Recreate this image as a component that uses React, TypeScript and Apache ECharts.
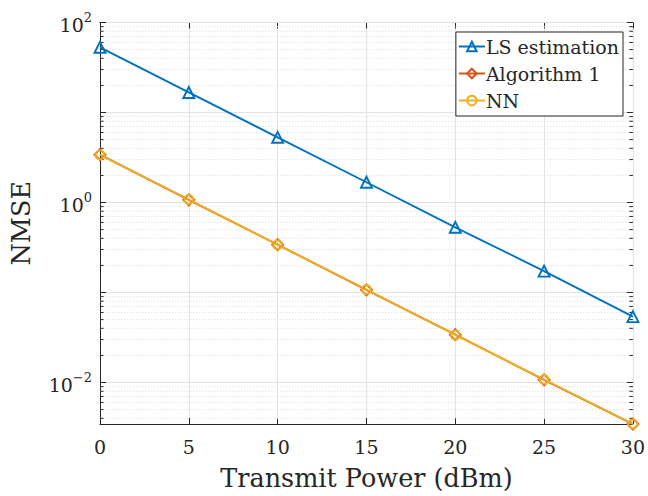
import React, { useEffect, useRef } from "react";
import * as echarts from "echarts";

const powers = [0, 5, 10, 15, 20, 25, 30];
const lsValues = [53, 16.7, 5.3, 1.68, 0.53, 0.173, 0.054];
const alg1Values = [3.4, 1.07, 0.34, 0.107, 0.034, 0.0107, 0.00345];
const nnValues = [3.38, 1.08, 0.34, 0.108, 0.0338, 0.0108, 0.00346];
const seriesNames = ["LS estimation", "Algorithm 1", "NN"];
const yMin = 0.00346;
const yMax = 100;
const minorGridValues = [
  0.004, 0.005, 0.006, 0.007, 0.008, 0.009,
  0.02, 0.03, 0.04, 0.05, 0.06, 0.07, 0.08, 0.09,
  0.2, 0.3, 0.4, 0.5, 0.6, 0.7, 0.8, 0.9,
  2, 3, 4, 5, 6, 7, 8, 9,
  20, 30, 40, 50, 60, 70, 80, 90,
];
const decadeValues = [0.01, 0.1, 1, 10, 100];

const FONT = "DejaVu Serif";
const TXT = "#262626";
const BLUE = "#0072BD";
const ORANGE = "#D95319";
const YELLOW = "#EDB120";

export default function App() {
  const ref = useRef<HTMLDivElement>(null);
  useEffect(() => {
    document.body.style.margin = "0";
    const chart = echarts.init(ref.current!, null, { renderer: "svg" });
    const supFmt = (v: number) => {
      const e = Math.log10(v);
      const r = Math.round(e);
      if (Math.abs(e - r) > 1e-6 || r % 2 !== 0) return "";
      const es = r < 0 ? "\u2212" + Math.abs(r) : String(r);
      return "{b|10}{s|" + es + "}";
    };
    const rich = {
      b: { fontSize: 19, fontFamily: FONT, color: TXT, verticalAlign: "bottom", lineHeight: 24 },
      s: { fontSize: 13, fontFamily: FONT, color: TXT, verticalAlign: "top", lineHeight: 24, padding: [0, 0, 10, 0] },
    };
    const lineSeries = (name: string, data: number[], color: string, symbol: string, size: number) => ({
      name,
      type: "line",
      data: powers.map((p, i) => [p, data[i]]),
      symbol,
      symbolSize: size,
      clip: false,
      lineStyle: { color, width: 1.9 },
      itemStyle: { color: "rgba(255,255,255,0)", borderColor: color, borderWidth: 1.9 },
      z: 5,
    });
    chart.setOption({
      animation: false,
      backgroundColor: "#fff",
      grid: { left: 99, right: 13, top: 22.5, bottom: 71.7, containLabel: false },
      legend: {
        data: seriesNames,
        orient: "vertical",
        right: 25,
        top: 32,
        itemWidth: 26,
        itemHeight: 12,
        itemGap: 8,
        padding: [5, 4, 6, 2],
        backgroundColor: "#fff",
        borderColor: TXT,
        borderWidth: 1,
        borderRadius: 0,
        textStyle: { fontFamily: FONT, fontSize: 19, color: TXT, padding: [0, 0, 0, -4] },
      },
      xAxis: [
        {
          type: "value",
          min: 0,
          max: 30,
          interval: 5,
          name: "Transmit Power (dBm)",
          nameLocation: "middle",
          nameGap: 41,
          nameTextStyle: { fontFamily: FONT, fontSize: 25.5, color: TXT },
          axisLine: { lineStyle: { color: TXT, width: 1 } },
          axisTick: { inside: true, length: 6, lineStyle: { color: TXT } },
          axisLabel: { fontFamily: FONT, fontSize: 19, color: TXT, margin: 13 },
          splitLine: { show: true, lineStyle: { color: "#e3e3e3", width: 1 } },
        },
        {
          type: "value",
          position: "top",
          min: 0,
          max: 30,
          interval: 5,
          axisLine: { show: true, lineStyle: { color: TXT, width: 1 } },
          axisTick: { show: true, inside: true, length: 6, lineStyle: { color: TXT } },
          axisLabel: { show: false },
          splitLine: { show: false },
        },
      ],
      yAxis: [
        {
          type: "log",
          logBase: 10,
          min: yMin,
          max: yMax,
          name: "NMSE",
          nameLocation: "middle",
          nameGap: 66,
          nameTextStyle: { fontFamily: FONT, fontSize: 25.5, color: TXT },
          axisLine: { show: true, lineStyle: { color: TXT, width: 1 } },
          axisTick: { show: false },
          axisLabel: { formatter: supFmt, rich, margin: 8, showMinLabel: false },
          splitLine: { show: false },
        },
        {
          type: "log",
          logBase: 10,
          min: yMin,
          max: yMax,
          position: "right",
          axisLine: { show: true, lineStyle: { color: TXT, width: 1 } },
          axisTick: { show: false },
          axisLabel: { show: false },
          splitLine: { show: false },
        },
      ],
      series: [
        {
          type: "custom",
          name: "grid",
          silent: true,
          z: 1,
          clip: false,
          data: minorGridValues.map((v) => [0, v, 0]).concat(decadeValues.map((v) => [0, v, 1])),
          encode: { x: 0, y: 1 },
          renderItem: (params: any, api: any) => {
            const v = api.value(1);
            const major = api.value(2) === 1;
            const p0 = api.coord([0, v]);
            const p1 = api.coord([30, v]);
            const tl = major ? 6 : 3.5;
            const children: any[] = [
              {
                type: "line",
                shape: { x1: p0[0], y1: p0[1], x2: p1[0], y2: p1[1] },
                style: major
                  ? { stroke: "#e3e3e3", lineWidth: 1 }
                  : { stroke: "#e6e6e6", lineWidth: 1, lineDash: [1.5, 1.5] },
                z2: 0,
              },
              {
                type: "line",
                shape: { x1: p0[0], y1: p0[1], x2: p0[0] + tl, y2: p0[1] },
                style: { stroke: TXT, lineWidth: 1 },
                z2: 2,
              },
              {
                type: "line",
                shape: { x1: p1[0] - tl, y1: p1[1], x2: p1[0], y2: p1[1] },
                style: { stroke: TXT, lineWidth: 1 },
                z2: 2,
              },
            ];
            return { type: "group", children };
          },
        },
        lineSeries(seriesNames[0], lsValues, BLUE, "triangle", 11),
        lineSeries(seriesNames[1], alg1Values, ORANGE, "diamond", 11),
        lineSeries(seriesNames[2], nnValues, YELLOW, "circle", 9),
      ],
    });
    return () => chart.dispose();
  }, []);
  return <div ref={ref} style={{ width: 648, height: 496 }} />;
}
